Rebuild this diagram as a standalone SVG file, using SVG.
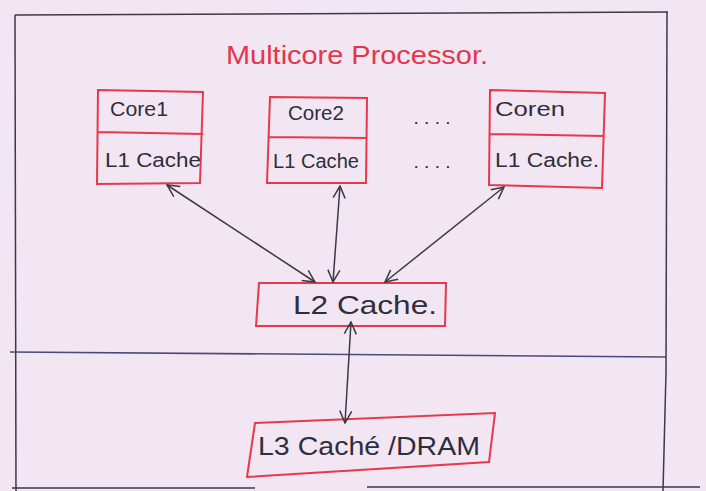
<svg xmlns="http://www.w3.org/2000/svg" width="706" height="491" viewBox="0 0 706 491">
<style>
.bg{fill:#f2e6f2}
.frame{fill:none;stroke:#3a3a48;stroke-width:1.5}
.rule{fill:none;stroke:#4a4a7a;stroke-width:1.5}
.box{fill:none;stroke:#e8384e;stroke-width:2}
.t{font-family:"Liberation Sans","DejaVu Sans",sans-serif;fill:#2e2e3c}
.title{font-family:"Liberation Sans","DejaVu Sans",sans-serif;fill:#e2364c}
.conn{fill:none;stroke:#3a3a44;stroke-width:1.5}
</style>
<defs>
<marker id="ah" viewBox="0 0 14 14" refX="13" refY="7" markerWidth="14" markerHeight="14" markerUnits="userSpaceOnUse" orient="auto-start-reverse">
<path d="M1,1 L13,7 L1,13" fill="none" stroke="#3a3a44" stroke-width="1.5"/>
</marker>
</defs>
<rect class="bg" x="0" y="0" width="706" height="491"/>
<g id="frame">
<path class="frame" d="M15,15 L668,12"/>
<path class="frame" d="M15,15 L16,491"/>
<path class="frame" d="M667,12 L666,372 L663,491"/>
<path class="rule" d="M10,352 L666,357"/>
<path class="frame" d="M12,488 L255,488 M367,487 L700,487"/>
</g>
<g id="title">
<text class="title" x="226" y="64" font-size="26" textLength="262" lengthAdjust="spacingAndGlyphs">Multicore Processor.</text>
</g>
<g id="core1">
<path class="box" d="M98,90 L203,92 L200,183 L97,184 Z M98,132 L203,134"/>
<text class="t" x="110" y="116" font-size="20" textLength="58" lengthAdjust="spacingAndGlyphs">Core1</text>
<text class="t" x="105" y="167" font-size="20" textLength="96" lengthAdjust="spacingAndGlyphs">L1 Cache</text>
</g>
<g id="core2">
<path class="box" d="M270,97 L367,98 L366,183 L267,183 Z M268,137 L367,138"/>
<text class="t" x="288" y="120" font-size="20" textLength="56" lengthAdjust="spacingAndGlyphs">Core2</text>
<text class="t" x="273" y="168" font-size="20" textLength="86" lengthAdjust="spacingAndGlyphs">L1 Cache</text>
</g>
<g id="coren">
<path class="box" d="M490,90 L605,93 L602,188 L489,185 Z M490,134 L604,136"/>
<text class="t" x="495" y="116" font-size="20" textLength="70" lengthAdjust="spacingAndGlyphs">Coren</text>
<text class="t" x="495" y="167" font-size="20" textLength="104" lengthAdjust="spacingAndGlyphs">L1 Cache.</text>
</g>
<g id="dots">
<text class="t" x="432" y="124" font-size="19" text-anchor="middle">. . . .</text>
<text class="t" x="432" y="168" font-size="19" text-anchor="middle">. . . .</text>
</g>
<g id="l2">
<path class="box" d="M259,283 L446,283 L445,326 L256,326 Z"/>
<text class="t" x="293" y="314" font-size="26" textLength="144" lengthAdjust="spacingAndGlyphs">L2 Cache.</text>
</g>
<g id="l3">
<path class="box" d="M255,423 L495,413 L489,462 L247,477 Z"/>
<text class="t" x="258" y="455" font-size="26" textLength="222" lengthAdjust="spacingAndGlyphs">L3 Caché /DRAM</text>
</g>
<g id="connectors">
<path class="conn" d="M167,185 L315,282" marker-start="url(#ah)" marker-end="url(#ah)"/>
<path class="conn" d="M340,186 L333,282" marker-start="url(#ah)" marker-end="url(#ah)"/>
<path class="conn" d="M504,187 L385,282" marker-start="url(#ah)" marker-end="url(#ah)"/>
<path class="conn" d="M351,322 L345,423" marker-start="url(#ah)" marker-end="url(#ah)"/>
</g>
</svg>
